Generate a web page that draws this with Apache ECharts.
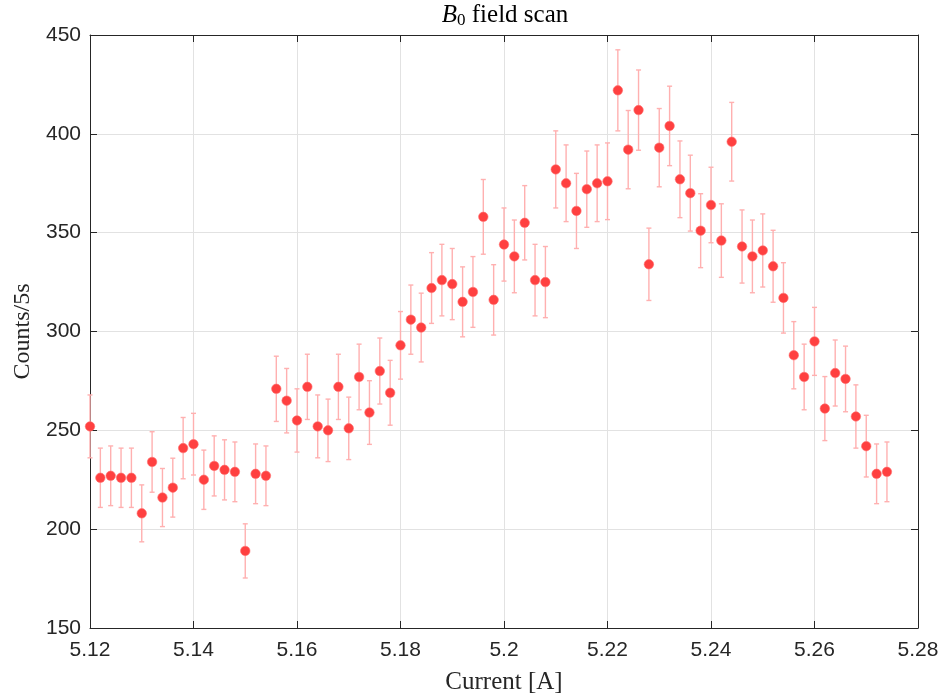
<!DOCTYPE html>
<html>
<head>
<meta charset="utf-8">
<script src="https://cdn.jsdelivr.net/npm/echarts@6/dist/echarts.min.js"></script>
<style>html,body{margin:0;padding:0;background:#fff}#c{width:945px;height:700px}</style>
</head>
<body>
<div id="c"></div>
<script>
const currents = [5.120,5.122,5.124,5.126,5.128,5.130,5.132,5.134,5.136,5.138,
  5.140,5.142,5.144,5.146,5.148,5.150,5.152,5.154,5.156,5.158,
  5.160,5.162,5.164,5.166,5.168,5.170,5.172,5.174,5.176,5.178,
  5.180,5.182,5.184,5.186,5.188,5.190,5.192,5.194,5.196,5.198,
  5.200,5.202,5.204,5.206,5.208,5.210,5.212,5.214,5.216,5.218,
  5.220,5.222,5.224,5.226,5.228,5.230,5.232,5.234,5.236,5.238,
  5.240,5.242,5.244,5.246,5.248,5.250,5.252,5.254,5.256,5.258,
  5.260,5.262,5.264,5.266,5.268,5.270,5.272,5.274];
const counts = [252,226,227,226,226,208,234,216,221,241,
  243,225,232,230,229,189,228,227,271,265,
  255,272,252,250,272,251,277,259,280,269,
  293,306,302,322,326,324,315,320,358,316,
  344,338,355,326,325,382,375,361,372,375,
  376,422,392,412,334,393,404,377,370,351,
  364,346,396,343,338,341,333,317,288,277,
  295,261,279,276,257,242,228,229];
const errors = [15.9,15.0,15.1,15.0,15.0,14.4,15.3,14.7,14.9,15.5,
  15.6,15.0,15.2,15.2,15.1,13.7,15.1,15.1,16.5,16.3,
  16.0,16.5,15.9,15.8,16.5,15.8,16.6,16.1,16.7,16.4,
  17.1,17.5,17.4,17.9,18.1,18.0,17.7,17.9,18.9,17.8,
  18.5,18.4,18.8,18.1,18.0,19.5,19.4,19.0,19.3,19.4,
  19.4,20.5,19.8,20.3,18.3,19.8,20.1,19.4,19.2,18.7,
  19.1,18.6,19.9,18.5,18.4,18.5,18.2,17.8,17.0,16.6,
  17.2,16.2,16.7,16.6,16.0,15.6,15.1,15.1];
const xTicks = {min: 5.12, max: 5.28, interval: 0.02};
const yTicks = {min: 150, max: 450, interval: 50};

const pts = currents.map((x, i) => [x, counts[i]]);
const errData = currents.map((x, i) => [x, counts[i], errors[i]]);

const axisColor = '#262626';
const gridColor = '#e2e2e2';
const labelFont = {fontFamily: 'Liberation Sans', fontSize: 21, color: '#262626'};
const serif = 'Liberation Serif';

const chart = echarts.init(document.getElementById('c'), null, {renderer: 'canvas'});
const baseX = {
  type: 'value', min: xTicks.min, max: xTicks.max, interval: xTicks.interval,
  axisLine: {show: true, onZero: false, lineStyle: {color: axisColor, width: 1}},
  axisTick: {show: true, inside: true, length: 7, lineStyle: {color: axisColor}},
};
const baseY = {
  type: 'value', min: yTicks.min, max: yTicks.max, interval: yTicks.interval,
  axisLine: {show: true, onZero: false, lineStyle: {color: axisColor, width: 1}},
  axisTick: {show: true, inside: true, length: 7, lineStyle: {color: axisColor}},
};
chart.setOption({
  animation: false,
  backgroundColor: '#fff',
  grid: {left: 90, right: 27, top: 35, bottom: 71, containLabel: false},
  graphic: [{
    type: 'text', x: 505, y: 18,
    style: {
      text: '{b|B}{s|0}{n| field scan}',
      align: 'center', verticalAlign: 'middle',
      rich: {
        b: {fontFamily: serif, fontStyle: 'italic', fontSize: 25, lineHeight: 30, verticalAlign: 'top', fill: '#000'},
        s: {fontFamily: serif, fontSize: 17, lineHeight: 30, padding: [9, 0, 0, 0], verticalAlign: 'top', fill: '#000'},
        n: {fontFamily: serif, fontSize: 25, lineHeight: 30, verticalAlign: 'top', fill: '#000'}
      }
    }
  }],
  xAxis: [
    Object.assign({}, baseX, {
      position: 'bottom',
      name: 'Current [A]', nameLocation: 'middle', nameGap: 42,
      nameTextStyle: {fontFamily: serif, fontSize: 25, color: '#262626'},
      axisLabel: Object.assign({margin: 12, formatter: v => String(+v.toFixed(2))}, labelFont),
      splitLine: {show: true, lineStyle: {color: gridColor, width: 1}}
    }),
    Object.assign({}, baseX, {
      position: 'top', axisLabel: {show: false}, splitLine: {show: false}
    })
  ],
  yAxis: [
    Object.assign({}, baseY, {
      position: 'left',
      name: 'Counts/5s', nameLocation: 'middle', nameGap: 54, nameRotate: 90,
      nameTextStyle: {fontFamily: serif, fontSize: 24, color: '#262626'},
      axisLabel: Object.assign({margin: 9}, labelFont),
      splitLine: {show: true, lineStyle: {color: gridColor, width: 1}}
    }),
    Object.assign({}, baseY, {
      position: 'right', axisLabel: {show: false}, splitLine: {show: false}
    })
  ],
  series: [
    {
      type: 'custom', xAxisIndex: 0, yAxisIndex: 0, z: 2,
      data: errData,
      renderItem: function (params, api) {
        const x = api.value(0), y = api.value(1), e = api.value(2);
        const top = api.coord([x, y + e]);
        const bot = api.coord([x, y - e]);
        const style = {stroke: '#ffb0b0', lineWidth: 1.4};
        const cw = 2.5;
        return {
          type: 'group',
          children: [
            {type: 'line', shape: {x1: top[0], y1: top[1], x2: bot[0], y2: bot[1]}, style: style},
            {type: 'line', shape: {x1: top[0] - cw, y1: top[1], x2: top[0] + cw, y2: top[1]}, style: style},
            {type: 'line', shape: {x1: bot[0] - cw, y1: bot[1], x2: bot[0] + cw, y2: bot[1]}, style: style}
          ]
        };
      }
    },
    {
      type: 'scatter', xAxisIndex: 0, yAxisIndex: 0, z: 3,
      data: pts, symbol: 'circle', symbolSize: 9.5,
      itemStyle: {color: '#ff4040', borderColor: '#ff7070', borderWidth: 0.6, opacity: 1}
    }
  ]
});
</script>
</body>
</html>
